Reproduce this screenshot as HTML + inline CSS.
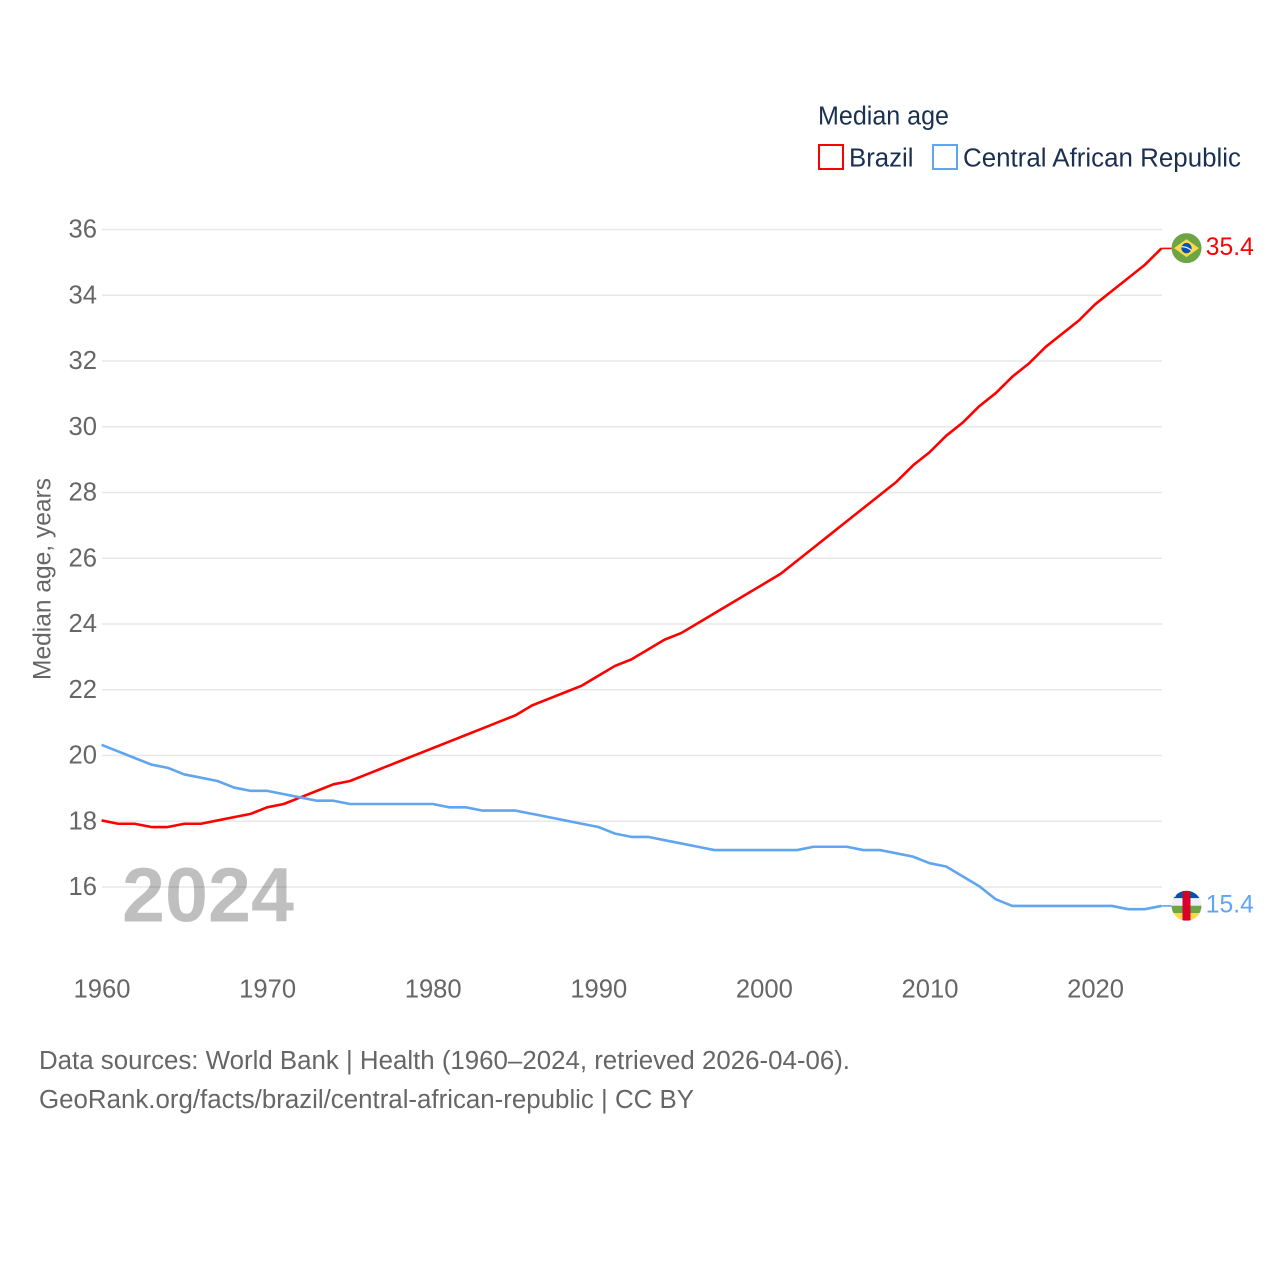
<!DOCTYPE html>
<html lang="en">
<head>
<meta charset="utf-8">
<title>Median age: Brazil and Central African Republic</title>
<style>
html,body{margin:0;padding:0;background:#fff;}
svg{display:block;font-family:"Liberation Sans",sans-serif;}
</style>
</head>
<body>
<svg id="chart" xmlns="http://www.w3.org/2000/svg" width="1280" height="1280" viewBox="0 0 1280 1280">
  <defs>
    <clipPath id="flag-clip-br"><circle cx="0" cy="0" r="15"/></clipPath>
    <clipPath id="flag-clip-cf"><circle cx="0" cy="0" r="15"/></clipPath>
  </defs>
  <rect x="0" y="0" width="1280" height="1280" fill="#ffffff"/>

  <g>
    <text x="818" y="124.5" font-size="25.5" fill="#1a3050" textLength="131" lengthAdjust="spacingAndGlyphs">Median age</text>
    <g>
      <rect x="819" y="145" width="24" height="24" fill="none" stroke="#ff0000" stroke-width="2"/>
      <text x="849" y="166.5" font-size="25.5" fill="#1a3050" textLength="64.5" lengthAdjust="spacingAndGlyphs">Brazil</text>
    </g>
    <g>
      <rect x="933" y="145" width="24" height="24" fill="none" stroke="#60a5f0" stroke-width="2"/>
      <text x="963" y="166.5" font-size="25.5" fill="#1a3050" textLength="278" lengthAdjust="spacingAndGlyphs">Central African Republic</text>
    </g>
  </g>

  <g id="grid"></g>
  <g id="y-ticks"></g>
  <g id="x-ticks"></g>

  <text transform="translate(50.5 680) rotate(-90)" font-size="25" fill="#666666" textLength="202" lengthAdjust="spacingAndGlyphs">Median age, years</text>

  <text x="122" y="921.5" font-size="77" font-weight="700" fill="#000000" fill-opacity="0.25" textLength="172" lengthAdjust="spacingAndGlyphs">2024</text>

  <g id="series"></g>

  <g id="flag-br">
    <g clip-path="url(#flag-clip-br)">
      <rect x="-15" y="-15" width="30" height="30" fill="#6da544"/>
      <polygon points="0,-9 12.5,0 0,9 -12.5,0" fill="#ffda44"/>
      <circle cx="0" cy="0" r="5.2" fill="#0052b4"/>
      <path d="M-4.8,-1.3 Q0,-1.8 4.8,2.2" fill="none" stroke="#f0f0f0" stroke-width="1.3"/>
    </g>
  </g>

  <g id="flag-cf">
    <g clip-path="url(#flag-clip-cf)">
      <rect x="-15" y="-15" width="30" height="7.5" fill="#0052b4"/>
      <rect x="-15" y="-7.5" width="30" height="7.5" fill="#f0f0f0"/>
      <rect x="-15" y="0" width="30" height="7.5" fill="#6da544"/>
      <rect x="-15" y="7.5" width="30" height="7.5" fill="#ffda44"/>
      <rect x="-4" y="-15" width="8" height="30" fill="#d80027"/>
      <circle cx="-12" cy="-10.5" r="1.7" fill="#ffda44"/>
    </g>
  </g>

  <g id="end-labels"></g>

  <g>
    <text x="39" y="1069" font-size="25.5" fill="#666666" textLength="811" lengthAdjust="spacingAndGlyphs">Data sources: World Bank | Health (1960–2024, retrieved 2026-04-06).</text>
    <text x="39" y="1108" font-size="25.5" fill="#666666" textLength="655" lengthAdjust="spacingAndGlyphs">GeoRank.org/facts/brazil/central-african-republic | CC BY</text>
  </g>
</svg>

<script>
var years = [1960,1961,1962,1963,1964,1965,1966,1967,1968,1969,1970,1971,1972,1973,1974,1975,1976,1977,1978,1979,1980,1981,1982,1983,1984,1985,1986,1987,1988,1989,1990,1991,1992,1993,1994,1995,1996,1997,1998,1999,2000,2001,2002,2003,2004,2005,2006,2007,2008,2009,2010,2011,2012,2013,2014,2015,2016,2017,2018,2019,2020,2021,2022,2023,2024];
var brazilValues = [18.0,17.9,17.9,17.8,17.8,17.9,17.9,18.0,18.1,18.2,18.4,18.5,18.7,18.9,19.1,19.2,19.4,19.6,19.8,20.0,20.2,20.4,20.6,20.8,21.0,21.2,21.5,21.7,21.9,22.1,22.4,22.7,22.9,23.2,23.5,23.7,24.0,24.3,24.6,24.9,25.2,25.5,25.9,26.3,26.7,27.1,27.5,27.9,28.3,28.8,29.2,29.7,30.1,30.6,31.0,31.5,31.9,32.4,32.8,33.2,33.7,34.1,34.5,34.9,35.4];
var carValues = [20.3,20.1,19.9,19.7,19.6,19.4,19.3,19.2,19.0,18.9,18.9,18.8,18.7,18.6,18.6,18.5,18.5,18.5,18.5,18.5,18.5,18.4,18.4,18.3,18.3,18.3,18.2,18.1,18.0,17.9,17.8,17.6,17.5,17.5,17.4,17.3,17.2,17.1,17.1,17.1,17.1,17.1,17.1,17.2,17.2,17.2,17.1,17.1,17.0,16.9,16.7,16.6,16.3,16.0,15.6,15.4,15.4,15.4,15.4,15.4,15.4,15.4,15.3,15.3,15.4];
var yTickValues = [16,18,20,22,24,26,28,30,32,34,36];
var xTickValues = [1960,1970,1980,1990,2000,2010,2020];

var SVGNS = 'http://www.w3.org/2000/svg';
var redColor = '#ff0000';
var blueColor = '#60a5f0';
var lineShift = 0.8;

function xScale(year) {
  return 102 + (year - 1960) * (1161.8 - 102) / 64;
}
function yScale(value) {
  return 887 - (value - 16) * (887 - 229.5) / 20;
}
function makeEl(tag, parent) {
  var el = document.createElementNS(SVGNS, tag);
  parent.appendChild(el);
  return el;
}

var gridGroup = document.getElementById('grid');
var yTickGroup = document.getElementById('y-ticks');
var xTickGroup = document.getElementById('x-ticks');
var seriesGroup = document.getElementById('series');
var endLabelGroup = document.getElementById('end-labels');

yTickValues.forEach(function (v) {
  var line = makeEl('line', gridGroup);
  
  
  line.setAttribute('x1', 102);
  line.setAttribute('x2', 1162);
  line.setAttribute('y1', yScale(v));
  line.setAttribute('y2', yScale(v));
  line.setAttribute('stroke', '#e8e8e8');
  line.setAttribute('stroke-width', 1.4);

  var label = makeEl('text', yTickGroup);
  
  
  label.setAttribute('x', 97);
  label.setAttribute('y', yScale(v) + 8.2);
  label.setAttribute('text-anchor', 'end');
  label.setAttribute('font-size', 25.6);
  label.setAttribute('fill', '#666666');
  label.textContent = String(v);
});

xTickValues.forEach(function (year) {
  var label = makeEl('text', xTickGroup);
  
  
  label.setAttribute('x', xScale(year));
  label.setAttribute('y', 997.5);
  label.setAttribute('text-anchor', 'middle');
  label.setAttribute('font-size', 25.6);
  label.setAttribute('fill', '#666666');
  label.textContent = String(year);
});

function buildPoints(values) {
  return values.map(function (v, i) {
    return (xScale(years[i]) - 0.4).toFixed(2) + ',' + (yScale(v) - lineShift).toFixed(2);
  }).join(' ');
}

var brazilLine = makeEl('polyline', seriesGroup);


brazilLine.setAttribute('points', buildPoints(brazilValues));
brazilLine.setAttribute('fill', 'none');
brazilLine.setAttribute('stroke', redColor);
brazilLine.setAttribute('stroke-width', 2.6);
brazilLine.setAttribute('stroke-linejoin', 'round');

var carLine = makeEl('polyline', seriesGroup);


carLine.setAttribute('points', buildPoints(carValues));
carLine.setAttribute('fill', 'none');
carLine.setAttribute('stroke', blueColor);
carLine.setAttribute('stroke-width', 2.6);
carLine.setAttribute('stroke-linejoin', 'round');

var lastIndex = years.length - 1;
var lastX = xScale(years[lastIndex]) - 0.4;
var brazilLastY = yScale(brazilValues[lastIndex]) - lineShift;
var carLastY = yScale(carValues[lastIndex]) - lineShift;

var brazilConnector = makeEl('line', seriesGroup);


brazilConnector.setAttribute('x1', lastX);
brazilConnector.setAttribute('x2', lastX + 10);
brazilConnector.setAttribute('y1', brazilLastY);
brazilConnector.setAttribute('y2', brazilLastY);
brazilConnector.setAttribute('stroke', redColor);
brazilConnector.setAttribute('stroke-width', 1.6);

var carConnector = makeEl('line', seriesGroup);


carConnector.setAttribute('x1', lastX);
carConnector.setAttribute('x2', lastX + 10);
carConnector.setAttribute('y1', carLastY);
carConnector.setAttribute('y2', carLastY);
carConnector.setAttribute('stroke', blueColor);
carConnector.setAttribute('stroke-width', 1.6);

document.getElementById('flag-br').setAttribute('transform', 'translate(' + (lastX + 25.1) + ' ' + (brazilLastY - 0.3) + ')');
document.getElementById('flag-cf').setAttribute('transform', 'translate(' + (lastX + 25.1) + ' ' + (carLastY - 0.2) + ')');

var brazilEnd = makeEl('text', endLabelGroup);


brazilEnd.setAttribute('x', lastX + 44.4);
brazilEnd.setAttribute('y', brazilLastY + 6.4);
brazilEnd.setAttribute('font-size', 25);
brazilEnd.setAttribute('fill', redColor);
brazilEnd.setAttribute('textLength', 48);
brazilEnd.setAttribute('lengthAdjust', 'spacingAndGlyphs');
brazilEnd.textContent = brazilValues[lastIndex].toFixed(1);

var carEnd = makeEl('text', endLabelGroup);


carEnd.setAttribute('x', lastX + 44.4);
carEnd.setAttribute('y', carLastY + 6.4);
carEnd.setAttribute('font-size', 25);
carEnd.setAttribute('fill', blueColor);
carEnd.setAttribute('textLength', 48);
carEnd.setAttribute('lengthAdjust', 'spacingAndGlyphs');
carEnd.textContent = carValues[lastIndex].toFixed(1);
</script>
</body>
</html>
